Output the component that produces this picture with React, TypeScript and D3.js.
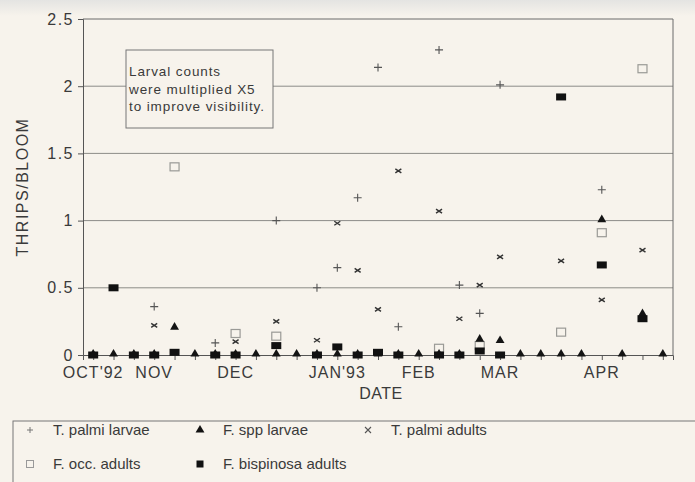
import React, { useEffect, useRef } from 'react';
import * as d3 from 'd3';

// weekly sampling dates, Oct '92 .. mid Apr '93
const weeks = [0, 1, 2, 3, 4, 5, 6, 7, 8, 9, 10, 11, 12, 13, 14, 15, 16, 17, 18, 19, 20, 21, 22, 23, 24, 25, 26, 27, 28];
const monthLabels = ["OCT'92", 'NOV', 'DEC', "JAN'93", 'FEB', 'MAR', 'APR'];
const monthWeeks = [0, 3, 7, 12, 16, 20, 25];
const yTicks = [0, 0.5, 1, 1.5, 2, 2.5];

const palmiLarvae = [null, null, null, 0.36, null, null, 0.09, null, null, 1.0, null, 0.5, 0.65, 1.17, 2.14, 0.21, null, 2.27, 0.52, 0.31, 2.01, null, null, null, null, 1.23, null, null, null];
const palmiAdults = [null, null, null, 0.22, null, null, null, 0.1, null, 0.25, null, 0.11, 0.98, 0.63, 0.34, 1.37, null, 1.07, 0.27, 0.52, 0.73, null, null, 0.7, null, 0.41, null, 0.78, null];
const occAdults = [null, null, null, null, 1.4, null, null, 0.16, null, 0.14, null, null, null, null, null, null, null, 0.05, null, 0.07, null, null, null, 0.17, null, 0.91, null, 2.13, null];
const sppLarvae = [0, 0, 0, 0, 0.2, 0, 0, 0, 0, 0, 0, 0, 0, 0, 0, 0, 0, 0, 0, 0.11, 0.1, 0, 0, 0, 0, 1.0, 0, 0.3, 0];
const bispinosaAdults = [0, 0.5, 0, 0, 0.02, null, 0, 0, null, 0.07, null, 0, 0.06, 0, 0.02, 0, null, 0, 0, 0.03, 0, null, null, 1.92, null, 0.67, null, 0.27, null];

const noteLines = ['Larval counts', 'were multiplied X5', 'to improve visibility.'];

const W = 695;
const H = 482;
const BG = '#f7f3ec';
const INK = '#3a3a3a';

const App = () => {
  const svgRef = useRef(null);

  useEffect(() => {
    const svg = d3.select(svgRef.current);
    svg.selectAll('*').remove();

    const x = d3.scaleLinear().domain([-0.5, 28.5]).range([83, 673]);
    const y = d3.scaleLinear().domain([0, 2.5]).range([355, 19]);

    // background + greyish top band of the scan
    const defs = svg.append('defs');
    const grad = defs.append('linearGradient').attr('id', 'topband').attr('x1', 0).attr('x2', 0).attr('y1', 0).attr('y2', 1);
    grad.append('stop').attr('offset', '0%').attr('stop-color', '#e4e4e2');
    grad.append('stop').attr('offset', '100%').attr('stop-color', BG);
    svg.append('rect').attr('width', W).attr('height', H).attr('fill', BG);
    svg.append('rect').attr('width', W).attr('height', 16).attr('fill', 'url(#topband)');

    const g = svg.append('g');

    // gridlines
    g.selectAll('.grid')
      .data(yTicks.filter((d) => d > 0 && d < 2.5))
      .enter()
      .append('line')
      .attr('x1', x(-0.5))
      .attr('x2', x(28.5))
      .attr('y1', (d) => y(d))
      .attr('y2', (d) => y(d))
      .attr('stroke', '#8c8c88')
      .attr('stroke-width', 1);

    // frame: top, right
    g.append('line').attr('x1', x(-0.5)).attr('x2', x(28.5)).attr('y1', y(2.5)).attr('y2', y(2.5)).attr('stroke', '#6a6a6a');
    g.append('line').attr('x1', x(28.5)).attr('x2', x(28.5)).attr('y1', y(2.5)).attr('y2', y(0)).attr('stroke', '#6a6a6a');

    // y axis
    const yAxis = g.append('g')
      .attr('transform', `translate(${x(-0.5)},0)`)
      .call(d3.axisLeft(y).tickValues(yTicks).tickSize(5).tickFormat((d) => String(d)));
    yAxis.select('.domain').attr('stroke', '#555');
    yAxis.selectAll('line').attr('stroke', '#555');
    yAxis.selectAll('text')
      .attr('fill', INK)
      .attr('x', -9)
      .style('font-family', 'Liberation Sans, Arial, sans-serif')
      .style('font-size', '16px')
      .style('letter-spacing', '1.5px');

    // x axis
    const xAxis = g.append('g')
      .attr('transform', `translate(0,${y(0)})`)
      .call(d3.axisBottom(x).tickValues(weeks).tickSize(5).tickFormat(() => ''));
    xAxis.select('.domain').attr('stroke', '#555');
    xAxis.selectAll('line').attr('stroke', '#555');

    g.selectAll('.month')
      .data(monthLabels)
      .enter()
      .append('text')
      .attr('x', (d, i) => x(monthWeeks[i]))
      .attr('y', 378)
      .attr('text-anchor', 'middle')
      .attr('fill', INK)
      .style('font-family', 'Liberation Sans, Arial, sans-serif')
      .style('font-size', '16px')
      .style('letter-spacing', '1px')
      .text((d) => d);

    svg.append('text')
      .attr('x', 381)
      .attr('y', 399)
      .attr('text-anchor', 'middle')
      .attr('fill', INK)
      .style('font-family', 'Liberation Sans, Arial, sans-serif')
      .style('font-size', '16px')
      .style('letter-spacing', '0.5px')
      .text('DATE');

    svg.append('text')
      .attr('transform', `translate(28,187) rotate(-90)`)
      .attr('text-anchor', 'middle')
      .attr('fill', INK)
      .style('font-family', 'Liberation Sans, Arial, sans-serif')
      .style('font-size', '16px')
      .style('letter-spacing', '1.5px')
      .text('THRIPS/BLOOM');

    // note box
    const note = svg.append('g');
    note.append('rect').attr('x', 126).attr('y', 50).attr('width', 147).attr('height', 78)
      .attr('fill', BG).attr('stroke', '#777');
    note.selectAll('text')
      .data(noteLines)
      .enter()
      .append('text')
      .attr('x', 129)
      .attr('y', (d, i) => 76 + i * 17.5)
      .attr('fill', INK)
      .style('font-family', 'Liberation Sans, Arial, sans-serif')
      .style('font-size', '13.5px')
      .style('letter-spacing', '0.9px')
      .text((d) => d);

    const pts = (arr) => arr.map((v, i) => ({ i, v })).filter((d) => d.v !== null);

    // T. palmi larvae: plus
    g.selectAll('.plus')
      .data(pts(palmiLarvae))
      .enter()
      .append('path')
      .attr('d', (d) => `M${x(d.i) - 4},${y(d.v)}h8M${x(d.i)},${y(d.v) - 4}v8`)
      .attr('stroke', '#555')
      .attr('stroke-width', 1.1);

    // T. palmi adults: cross
    g.selectAll('.cross')
      .data(pts(palmiAdults))
      .enter()
      .append('path')
      .attr('d', (d) => `M${x(d.i) - 3},${y(d.v) - 2}l6,4M${x(d.i) - 3},${y(d.v) + 2}l6,-4`)
      .attr('stroke', '#333')
      .attr('stroke-width', 1.4);

    // F. occ. adults: open square
    g.selectAll('.osq')
      .data(pts(occAdults))
      .enter()
      .append('rect')
      .attr('x', (d) => x(d.i) - 4.5)
      .attr('y', (d) => y(d.v) - 4)
      .attr('width', 9)
      .attr('height', 8)
      .attr('fill', 'none')
      .attr('stroke', '#9a9a96')
      .attr('stroke-width', 1.2);

    // F. spp larvae: filled triangle
    const tri = d3.symbol().type(d3.symbolTriangle).size(34);
    g.selectAll('.tri')
      .data(pts(sppLarvae))
      .enter()
      .append('path')
      .attr('d', tri)
      .attr('transform', (d) => `translate(${x(d.i)},${y(d.v) - 1})`)
      .attr('fill', '#141414');

    // F. bispinosa adults: filled square
    g.selectAll('.fsq')
      .data(pts(bispinosaAdults))
      .enter()
      .append('rect')
      .attr('x', (d) => x(d.i) - 5)
      .attr('y', (d) => y(d.v) - 3.5)
      .attr('width', 10)
      .attr('height', 7)
      .attr('fill', '#111');

    // legend
    const legend = svg.append('g');
    legend.append('rect').attr('x', 13).attr('y', 421).attr('width', 700).attr('height', 80)
      .attr('fill', 'none').attr('stroke', '#777');

    const items = [
      { label: 'T. palmi larvae', col: 0, row: 0, kind: 'plus' },
      { label: 'F. spp larvae', col: 1, row: 0, kind: 'tri' },
      { label: 'T. palmi adults', col: 2, row: 0, kind: 'cross' },
      { label: 'F. occ. adults', col: 0, row: 1, kind: 'osq' },
      { label: 'F. bispinosa adults', col: 1, row: 1, kind: 'fsq' },
    ];
    const colX = [30, 200, 368];
    const rowY = [430, 464];

    items.forEach((it) => {
      const mx = colX[it.col];
      const my = rowY[it.row];
      if (it.kind === 'plus') {
        legend.append('path').attr('d', `M${mx - 3},${my}h6M${mx},${my - 3}v6`).attr('stroke', '#777').attr('stroke-width', 1);
      } else if (it.kind === 'cross') {
        legend.append('path').attr('d', `M${mx - 3},${my - 3}l6,6M${mx - 3},${my + 3}l6,-6`).attr('stroke', '#555').attr('stroke-width', 1.1);
      } else if (it.kind === 'tri') {
        legend.append('path').attr('d', tri).attr('transform', `translate(${mx},${my})`).attr('fill', '#111');
      } else if (it.kind === 'osq') {
        legend.append('rect').attr('x', mx - 3.5).attr('y', my - 3.5).attr('width', 7).attr('height', 7)
          .attr('fill', 'none').attr('stroke', '#999');
      } else {
        legend.append('rect').attr('x', mx - 3.5).attr('y', my - 3.5).attr('width', 7).attr('height', 7).attr('fill', '#111');
      }
      legend.append('text')
        .attr('x', mx + 23)
        .attr('y', my + 5)
        .attr('fill', INK)
        .style('font-family', 'Liberation Sans, Arial, sans-serif')
        .style('font-size', '15px')
        .text(it.label);
    });
  }, []);

  return (
    <svg
      ref={svgRef}
      width={W}
      height={H}
      style={{ position: 'absolute', left: 0, top: 0, display: 'block' }}
    />
  );
};

export default App;
